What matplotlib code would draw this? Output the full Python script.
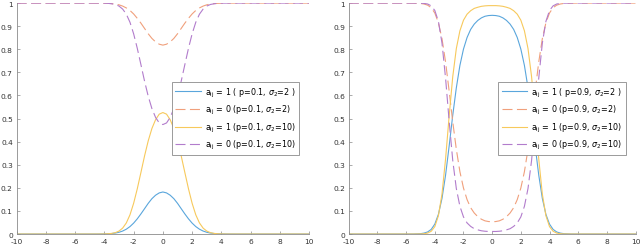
import matplotlib
matplotlib.use("Agg")
import matplotlib.pyplot as plt

plt.rcParams["axes.unicode_minus"] = False

# sample positions
x = [-10, -8, -6, -5.5,
     -5, -4.75, -4.5, -4.25, -4, -3.75, -3.5, -3.25, -3, -2.75, -2.5, -2.25,
     -2, -1.75, -1.5, -1.25, -1, -0.75, -0.5, -0.25,
     0,
     0.25, 0.5, 0.75, 1, 1.25, 1.5, 1.75, 2, 2.25, 2.5, 2.75, 3, 3.25, 3.5,
     3.75, 4, 4.25, 4.5, 4.75, 5,
     5.5, 6, 8, 10]

# left panel, p = 0.1
a1_s2_p01 = [0, 0, 0, 0,
             0.0, 0.0001, 0.0001, 0.0003, 0.0006, 0.0011, 0.0022, 0.0042, 0.0075, 0.0129, 0.0209, 0.0322,
             0.0472, 0.0658, 0.0872, 0.110, 0.133, 0.153, 0.168, 0.178,
             0.182,
             0.178, 0.168, 0.153, 0.133, 0.110, 0.0872, 0.0658, 0.0472, 0.0322, 0.0209, 0.0129, 0.0075, 0.0042, 0.0022,
             0.0011, 0.0006, 0.0003, 0.0001, 0.0001, 0.0,
             0, 0, 0, 0]
a0_s2_p01 = [1, 1, 1, 1,
             1.0, 0.9999, 0.9999, 0.9997, 0.9994, 0.9989, 0.9978, 0.9958, 0.9925, 0.987, 0.979, 0.968,
             0.953, 0.934, 0.913, 0.890, 0.867, 0.847, 0.832, 0.822,
             0.818,
             0.822, 0.832, 0.847, 0.867, 0.890, 0.913, 0.934, 0.953, 0.968, 0.979, 0.987, 0.9925, 0.9958, 0.9978,
             0.9989, 0.9994, 0.9997, 0.9999, 0.9999, 1.0,
             1, 1, 1, 1]
a1_s10_p01 = [0, 0, 0, 0,
              0.0, 0.0, 0.0, 0.0001, 0.0004, 0.0011, 0.0026, 0.0059, 0.0128, 0.0256, 0.0480, 0.0831,
              0.133, 0.196, 0.267, 0.339, 0.404, 0.457, 0.495, 0.519,
              0.526,
              0.519, 0.495, 0.457, 0.404, 0.339, 0.267, 0.196, 0.133, 0.0831, 0.0480, 0.0256, 0.0128, 0.0059, 0.0026,
              0.0011, 0.0004, 0.0001, 0.0, 0.0, 0.0,
              0, 0, 0, 0]
a0_s10_p01 = [1, 1, 1, 1,
              1.0, 1.0, 1.0, 0.9999, 0.9996, 0.999, 0.997, 0.994, 0.987, 0.974, 0.952, 0.917,
              0.867, 0.804, 0.733, 0.661, 0.596, 0.543, 0.505, 0.481,
              0.474,
              0.481, 0.505, 0.543, 0.596, 0.661, 0.733, 0.804, 0.867, 0.917, 0.952, 0.974, 0.987, 0.994, 0.997,
              0.999, 0.9996, 0.9999, 1.0, 1.0, 1.0,
              1, 1, 1, 1]

# right panel, p = 0.9
a1_s2_p09 = [0, 0, 0, 0.0002,
             0.0015, 0.004, 0.009, 0.020, 0.043, 0.085, 0.154, 0.255, 0.381, 0.514, 0.633, 0.730,
             0.801, 0.851, 0.886, 0.909, 0.925, 0.936, 0.943, 0.946,
             0.947,
             0.946, 0.943, 0.936, 0.925, 0.909, 0.886, 0.851, 0.801, 0.730, 0.633, 0.514, 0.381, 0.255, 0.154,
             0.085, 0.043, 0.020, 0.009, 0.004, 0.0015,
             0.0002, 0, 0, 0]
a0_s2_p09 = [1, 1, 1, 0.9998,
             0.9985, 0.996, 0.991, 0.980, 0.957, 0.915, 0.846, 0.745, 0.619, 0.486, 0.367, 0.270,
             0.199, 0.149, 0.114, 0.091, 0.075, 0.064, 0.057, 0.054,
             0.053,
             0.054, 0.057, 0.064, 0.075, 0.091, 0.114, 0.149, 0.199, 0.270, 0.367, 0.486, 0.619, 0.745, 0.846,
             0.915, 0.957, 0.980, 0.991, 0.996, 0.9985,
             0.9998, 1, 1, 1]
a1_s10_p09 = [0, 0, 0, 0,
              0.0004, 0.0013, 0.004, 0.012, 0.032, 0.079, 0.173, 0.325, 0.511, 0.681, 0.803, 0.880,
              0.926, 0.952, 0.967, 0.977, 0.982, 0.986, 0.988, 0.989,
              0.989,
              0.989, 0.988, 0.986, 0.982, 0.977, 0.967, 0.952, 0.926, 0.880, 0.803, 0.681, 0.511, 0.325, 0.173,
              0.079, 0.032, 0.012, 0.004, 0.0013, 0.0004,
              0, 0, 0, 0]
a0_s10_p09 = [1, 1, 1, 1,
              0.9996, 0.9987, 0.996, 0.988, 0.968, 0.921, 0.827, 0.675, 0.489, 0.319, 0.197, 0.120,
              0.074, 0.048, 0.033, 0.023, 0.018, 0.014, 0.012, 0.011,
              0.011,
              0.011, 0.012, 0.014, 0.018, 0.023, 0.033, 0.048, 0.074, 0.120, 0.197, 0.319, 0.489, 0.675, 0.827,
              0.921, 0.968, 0.988, 0.996, 0.9987, 0.9996,
              1, 1, 1, 1]

xticks = list(range(-10, 11, 2))
yticks = [0, 0.1, 0.2, 0.3, 0.4, 0.5, 0.6, 0.7, 0.8, 0.9, 1]
ytick_labels = ["0", "0.1", "0.2", "0.3", "0.4", "0.5", "0.6", "0.7", "0.8", "0.9", "1"]

c_blue = "#5aa6dc"
c_orange = "#f0a07c"
c_yellow = "#f7c95c"
c_purple = "#b27ccc"

sub = r"a$_{\mathregular{ij}}$"
labels_left = [sub + r" = 1 ( p=0.1, $\sigma_2$=2 )",
               sub + r" = 0 (p=0.1, $\sigma_2$=2)",
               sub + r" = 1 (p=0.1, $\sigma_2$=10)",
               sub + r" = 0 (p=0.1, $\sigma_2$=10)"]
labels_right = [sub + r" = 1 ( p=0.9, $\sigma_2$=2 )",
                sub + r" = 0 (p=0.9, $\sigma_2$=2)",
                sub + r" = 1 (p=0.9, $\sigma_2$=10)",
                sub + r" = 0 (p=0.9, $\sigma_2$=10)"]

fig = plt.figure(figsize=(6.4, 2.51), dpi=100, facecolor="white")
ax1 = fig.add_axes([0.026, 0.0637, 0.457, 0.920])
ax2 = fig.add_axes([0.545, 0.0637, 0.448, 0.920])

dash = (0, (9, 4))


def draw(ax, s1, s0, t1, t0, labels):
    ax.plot(x, s1, color=c_blue, lw=0.8, label=labels[0])
    ax.plot(x, s0, color=c_orange, lw=0.8, ls=dash, label=labels[1])
    ax.plot(x, t1, color=c_yellow, lw=0.8, label=labels[2])
    ax.plot(x, t0, color=c_purple, lw=0.8, ls=dash, label=labels[3])
    ax.set_xlim(-10, 10)
    ax.set_ylim(0, 1)
    ax.set_xticks(xticks)
    ax.set_yticks(yticks)
    ax.set_yticklabels(ytick_labels)
    ax.spines["top"].set_visible(False)
    ax.spines["right"].set_visible(False)
    for s in ("left", "bottom"):
        ax.spines[s].set_color("#8a8a8a")
        ax.spines[s].set_linewidth(0.6)
    ax.tick_params(direction="in", length=2.5, width=0.5, color="#8a8a8a",
                   labelsize=5.4, labelcolor="#333333")
    ax.tick_params(axis="y", pad=2.8)
    ax.tick_params(axis="x", pad=3)
    leg = ax.legend(loc="center right", bbox_to_anchor=(0.98, 0.5), fontsize=5.8,
                    handlelength=3.2, handletextpad=0.5, borderpad=0.45,
                    labelspacing=0.55, fancybox=False, framealpha=1)
    leg.get_frame().set_edgecolor("#8a8a8a")
    leg.get_frame().set_linewidth(0.6)


draw(ax1, a1_s2_p01, a0_s2_p01, a1_s10_p01, a0_s10_p01, labels_left)
draw(ax2, a1_s2_p09, a0_s2_p09, a1_s10_p09, a0_s10_p09, labels_right)

fig.savefig("out.png", dpi=100, facecolor=fig.get_facecolor())
